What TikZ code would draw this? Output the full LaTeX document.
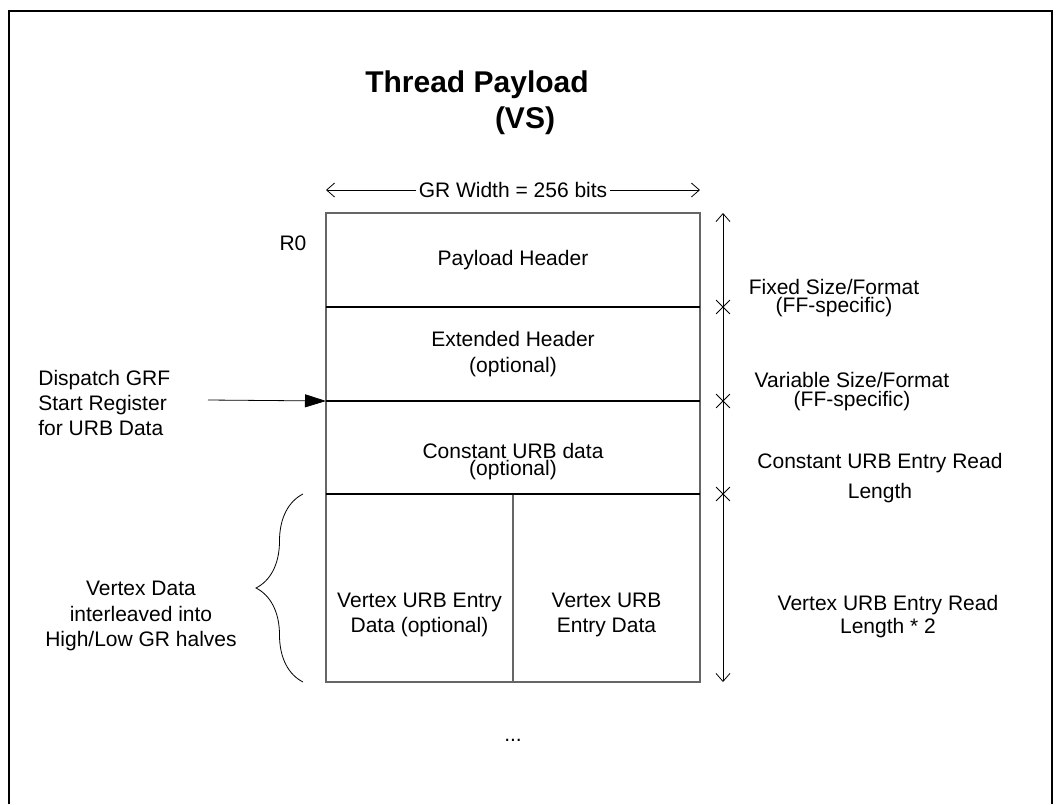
\documentclass[tikz,border=0pt]{standalone}
\usepackage{fontspec}
\setmainfont{Liberation Sans}
\usetikzlibrary{calc,positioning,arrows.meta,shapes.misc,decorations.pathreplacing}

\begin{document}
\begin{tikzpicture}[x=0.5pt,y=-0.5pt,node distance=0pt,>={Straight Barb[length=4pt,width=7pt]},
	cell/.style={draw=black!60, line width=0.6pt, minimum width=187pt, minimum height=47pt, inner sep=0pt, outer sep=0pt},
	halfcell/.style={cell, minimum width=93.5pt, minimum height=94pt},
	lbl/.style={font=\fontsize{10.5}{12.6}\selectfont, align=center, inner sep=1pt},
	titlefont/.style={font=\fontsize{15}{18}\selectfont\bfseries, inner sep=0pt},
	tick/.style={draw, cross out, minimum size=6.5pt, inner sep=0pt, line width=0.4pt}]
	\useasboundingbox (0,0) rectangle (1061,804);
	% frame
	\draw[line width=1pt] (9,804) -- (9,11) -- (1052,11) -- (1052,804);

	% title
	\node[titlefont, anchor=base] (title) at (477,92) {Thread Payload};
	\node[titlefont, anchor=base] (titlevs) at (525,128) {(VS)};

	% register cells
	\node[cell] (header) at (513,260) {};
	\node[cell, below=of header] (exthdr) {};
	\node[cell, below=of exthdr, minimum height=46.5pt] (constdata) {};
	\node[halfcell, anchor=north west] (vtxlow) at (constdata.south west) {};
	\node[halfcell, anchor=north east] (vtxhigh) at (constdata.south east) {};

	% register boundaries
	\draw[line width=0.6pt] (exthdr.north west) -- (exthdr.north east);
	\draw[line width=0.6pt] (constdata.north west) -- (constdata.north east);
	\draw[line width=0.6pt] (constdata.south west) -- (constdata.south east);

	\node[lbl] at (header.center) {Payload Header};
	\node[lbl] at (exthdr.center) {Extended Header\\(optional)};
	\node[lbl] at ([yshift=-7pt]constdata.center) {Constant URB data\\[-4.1pt](optional)};
	\node[lbl] at ([yshift=-13.5pt]vtxlow.center) {Vertex URB Entry\\Data (optional)};
	\node[lbl] at ([yshift=-13.5pt]vtxhigh.center) {Vertex URB\\Entry Data};
	\node[lbl] (rzero) at (293,243) {R0};
	\node[lbl, anchor=base] (dots) at (513,741) {...};

	% width arrow
	\coordinate (wleft) at ([yshift=11.5pt]header.north west);
	\coordinate (wright) at ([yshift=11.5pt]header.north east);
	\node[lbl, fill=white] (grwidth) at ($(wleft)!0.5!(wright)$) {GR Width = 256 bits};
	\draw[->, line width=0.4pt] (grwidth) -- (wleft);
	\draw[->, line width=0.4pt] (grwidth) -- (wright);

	% size arrow with ticks
	\coordinate (dimtop) at ([xshift=11.5pt]header.north east);
	\coordinate (dimbot) at ([xshift=11.5pt]vtxhigh.south east);
	\draw[<->, line width=0.4pt] (dimtop) -- (dimbot);
	\node[tick] (tfixed) at (dimtop |- header.south) {};
	\node[tick] (tvar) at (dimtop |- exthdr.south) {};
	\node[tick] (tconst) at (dimtop |- constdata.south) {};

	\node[lbl] (fixedlbl) at (834,298) {Fixed Size/Format\\[-3.6pt](FF-specific)};
	\node[lbl] (varlbl) at (852,392) {Variable Size/Format\\[-3.1pt](FF-specific)};
	\node[lbl] (constlbl) at (880,478) {Constant URB Entry Read\\[2.4pt]Length};
	\node[lbl] (vtxlbl) at (888,617) {Vertex URB Entry Read\\[-1.1pt]Length * 2};

	% dispatch start register
	\node[lbl, align=left, anchor=west] (dispatch) at (36,403) {Dispatch GRF\\Start Register\\for URB Data};
	\coordinate (dstart) at (208,400);
	\draw[-{Triangle[length=10.5pt,width=6.5pt]}, line width=0.4pt] (dstart) -- (constdata.north west);

	% vertex data brace
	\draw[decorate, decoration={brace, amplitude=23.5pt}, line width=0.4pt] ([xshift=-11.5pt]vtxlow.south west) -- ([xshift=-11.5pt]vtxlow.north west);
	\node[lbl] (vtxdata) at (141,616) {Vertex Data\\interleaved into\\High/Low GR halves};
\end{tikzpicture}
\end{document}
